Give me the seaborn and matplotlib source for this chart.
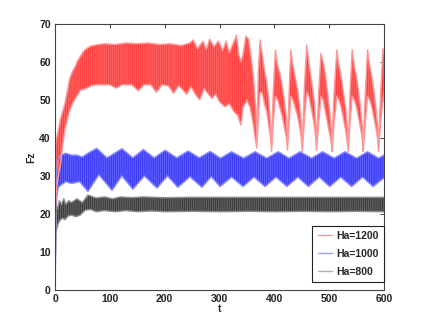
import matplotlib
matplotlib.use("Agg")
import matplotlib.pyplot as plt
from matplotlib.lines import Line2D
import seaborn as sns
import pandas as pd

# Envelope of the dense Fz oscillation (upper / lower edge)
red_t_upper = [0, 1, 3, 6, 10, 14, 18, 22, 27, 32, 37, 42, 46, 52, 58, 66, 76, 90, 110, 130,
               150, 170, 190, 210, 230, 246, 252, 260, 270, 276, 282, 290, 298, 306, 312, 318,
               324, 331, 335, 339, 343, 348, 353, 358, 362, 366, 368, 371, 374, 378, 382, 386,
               390, 393, 395, 398, 402, 406, 410, 414, 418, 422, 424, 427, 430, 434, 438, 442,
               446, 449, 451, 455, 459, 463, 467, 471, 474, 476, 477, 481, 485, 489, 493, 497,
               501, 504, 505, 509, 514, 518, 522, 526, 530, 533, 535, 538, 542, 546, 550, 554,
               558, 561, 562, 566, 570, 574, 578, 582, 586, 589, 590, 594, 598, 600]
red_v_upper = [0, 38, 40, 42, 45, 47, 49, 52, 55.7, 57.5, 58.8, 60.5, 61.4, 62.8, 63.6, 64.2,
               64.5, 64.8, 64.6, 65, 64.8, 65, 64.6, 64.8, 64.3, 65, 65.8, 63.5, 65.5, 63.3, 66,
               64, 65.5, 63, 65.5, 62.5, 64.5, 67.1, 62, 60, 62, 66.8, 66, 61, 56, 48, 40, 58,
               65.8, 62, 58, 55, 50, 44, 38, 52, 63.2, 59, 57, 54, 50, 45, 39, 52, 63.2, 59, 56,
               53, 49, 44, 38, 54, 64.5, 60, 56, 52, 48, 43, 38, 52, 62.3, 60, 57, 52, 47, 42,
               38, 52, 63.2, 59, 56, 52, 48, 43, 38, 52, 63.2, 59, 56, 52, 47, 42, 38, 52, 63.2,
               59, 56, 52, 47, 42, 38, 52, 63.5, 62]
red_t_lower = [0, 1, 3, 6, 10, 14, 18, 22, 27, 32, 37, 42, 46, 52, 58, 66, 76, 90, 100, 112,
               122, 140, 152, 162, 175, 185, 195, 207, 216, 226, 240, 248, 256, 264, 272, 280,
               286, 293, 300, 310, 318, 326, 333, 339, 343, 350, 356, 361, 365, 368, 371, 374,
               378, 382, 386, 390, 393, 395, 398, 402, 406, 410, 414, 418, 422, 424, 427, 430,
               434, 438, 442, 446, 449, 451, 455, 459, 463, 467, 471, 474, 476, 477, 481, 485,
               489, 493, 497, 501, 504, 505, 509, 514, 518, 522, 526, 530, 533, 535, 538, 542,
               546, 550, 554, 558, 561, 562, 566, 570, 574, 578, 582, 586, 589, 590, 594, 598,
               600]
red_v_lower = [0, 22, 27, 30, 33, 38, 42.1, 44.5, 47.4, 49, 50.4, 51.5, 52.6, 52.8, 53.1, 53.8,
               54, 54, 54, 53.1, 54, 54, 52.4, 54, 54, 52, 54, 53.7, 51.8, 53.8, 51.5, 53.5,
               51.5, 50, 53, 51.5, 50.4, 51.5, 49.5, 48.2, 49, 47, 46, 43.4, 48, 50, 48, 44, 40,
               37.3, 46, 52, 52, 49, 47, 43, 40, 36.4, 44, 51, 50, 48, 46, 43, 40, 36.8, 44, 51,
               50, 48, 46, 43, 40, 36.4, 45, 52, 51, 48, 45, 42, 39, 36.8, 44, 51, 50, 47, 44,
               41, 38.5, 36.4, 44, 51, 50, 48, 45, 42, 39, 36.4, 44, 51, 50, 48, 45, 42, 39,
               36.4, 44, 51, 50, 48, 45, 42, 39, 36.4, 44, 50, 52]

blue_t_upper = [0, 2, 5, 10, 20, 30, 40, 50, 60, 76, 95, 122, 142, 161, 181, 201, 222, 243,
                263, 283, 302, 322, 344, 365, 386, 407, 427, 447, 468, 488, 509, 529, 550, 570,
                590, 600]
blue_v_upper = [0, 30, 34, 35.5, 36, 35.5, 35.5, 35, 36, 37.3, 34.8, 37.2, 34.8, 37, 34.8, 36.8,
                34.8, 36.6, 34.8, 36.5, 34.7, 36.4, 34.7, 36.4, 34.7, 36.4, 34.7, 36.4, 34.7,
                36.4, 34.7, 36.4, 34.7, 36.4, 34.7, 35.5]
blue_t_lower = [0, 3, 6, 10, 20, 30, 45, 60, 80, 104, 122, 142, 163, 186, 205, 224, 246, 268,
                285, 301, 322, 343, 363, 383, 403, 423, 443, 462, 482, 501, 521, 541, 561, 580,
                600]
blue_v_lower = [0, 24, 27, 27.5, 28.5, 28, 28.5, 25.9, 30.3, 26.2, 30, 26.5, 30, 26.8, 30, 27,
                29.8, 27, 29.8, 27.2, 29.7, 27.2, 29.7, 27.2, 29.7, 27.2, 29.7, 27.2, 29.7,
                27.2, 29.7, 27.2, 29.7, 27.2, 29.5]

black_t_upper = [0, 1, 3, 5, 8, 12, 16, 20, 25, 30, 40, 50, 60, 75, 90, 105, 120, 140, 160,
                 200, 250, 300, 350, 400, 450, 500, 550, 600]
black_v_upper = [0, 17, 22, 21.5, 23.5, 22.5, 24, 22.5, 23.5, 23, 24, 23, 25, 24.2, 24.5, 24,
                 24.5, 24.3, 24.5, 24.3, 24.4, 24.4, 24.4, 24.4, 24.4, 24.4, 24.4, 24.4]
black_t_lower = [0, 1, 3, 6, 10, 14, 18, 24, 30, 38, 46, 55, 65, 75, 90, 110, 130, 150, 175,
                 200, 250, 300, 350, 400, 450, 500, 550, 600]
black_v_lower = [0, 15, 16, 17.5, 18.5, 18.9, 18.5, 19.5, 19.7, 19.3, 19.7, 21, 21.2, 20.6,
                 20.9, 20.6, 20.9, 20.6, 20.8, 20.6, 20.7, 20.6, 20.7, 20.6, 20.7, 20.6, 20.7,
                 20.6]

labels = ["Ha=1200", "Ha=1000", "Ha=800"]
x_ticks = [0, 100, 200, 300, 400, 500, 600]
y_ticks = [0, 10, 20, 30, 40, 50, 60, 70]

sns.set_style("white")
plt.rcParams["font.family"] = ["Liberation Sans", "DejaVu Sans"]
plt.rcParams["hatch.linewidth"] = 0.45

fig = plt.figure(figsize=(4.25, 3.27), dpi=100)
ax = fig.add_axes([55 / 425, 37 / 327, 329 / 425, 266 / 327])

# (upper t, upper v, lower t, lower v, fill, stripes, rim)
series = [
    (blue_t_upper, blue_v_upper, blue_t_lower, blue_v_lower, "#5c5cff", "#2828ee", "#9090ff"),
    (red_t_upper, red_v_upper, red_t_lower, red_v_lower, "#ff6060", "#ff2e2e", "#ff9999"),
    (black_t_upper, black_v_upper, black_t_lower, black_v_lower, "#5e5e5e", "#2c2c2c", "#8e8e8e"),
]
for tu, vu, tl, vl, fill, dark, rim in series:
    ax.fill(list(tu) + list(tl[::-1]), list(vu) + list(vl[::-1]),
            facecolor=fill, edgecolor=dark, hatch="||||||||", linewidth=0)
    edges = pd.concat([pd.DataFrame({"t": tu, "v": vu, "side": "up"}),
                       pd.DataFrame({"t": tl, "v": vl, "side": "lo"})])
    sns.lineplot(data=edges, x="t", y="v", units="side", estimator=None, sort=False,
                 color=rim, lw=1.0, ax=ax)

ax.set_xlim(0, 600)
ax.set_ylim(0, 70)
ax.set_xticks(x_ticks)
ax.set_yticks(y_ticks)
ax.tick_params(direction="in", length=3, width=0.6, top=True, right=True,
               labelsize=7.5, pad=3, colors="#222222")
for lab in ax.get_xticklabels() + ax.get_yticklabels():
    lab.set_fontweight("bold")
for sp in ax.spines.values():
    sp.set_color("#444444")
    sp.set_linewidth(0.8)
ax.set_xlabel("t", fontsize=7.5, fontweight="bold", labelpad=0)
ax.set_ylabel("Fz", fontsize=7.5, fontweight="bold", labelpad=2)

handles = [Line2D([], [], color=c, lw=1) for c in ["#ff9a9a", "#9a9aff", "#b0b0b0"]]
leg = ax.legend(handles, labels, loc="lower right", bbox_to_anchor=(1.0, 0.031),
                borderaxespad=0, fontsize=7.5, handlelength=1.4, handletextpad=0.4,
                labelspacing=0.75, borderpad=0.5, fancybox=False, framealpha=1)
leg.get_frame().set_edgecolor("#222222")
leg.get_frame().set_linewidth(0.8)
for txt in leg.get_texts():
    txt.set_fontweight("bold")

fig.savefig("out.png", dpi=100)
plt.close(fig)
